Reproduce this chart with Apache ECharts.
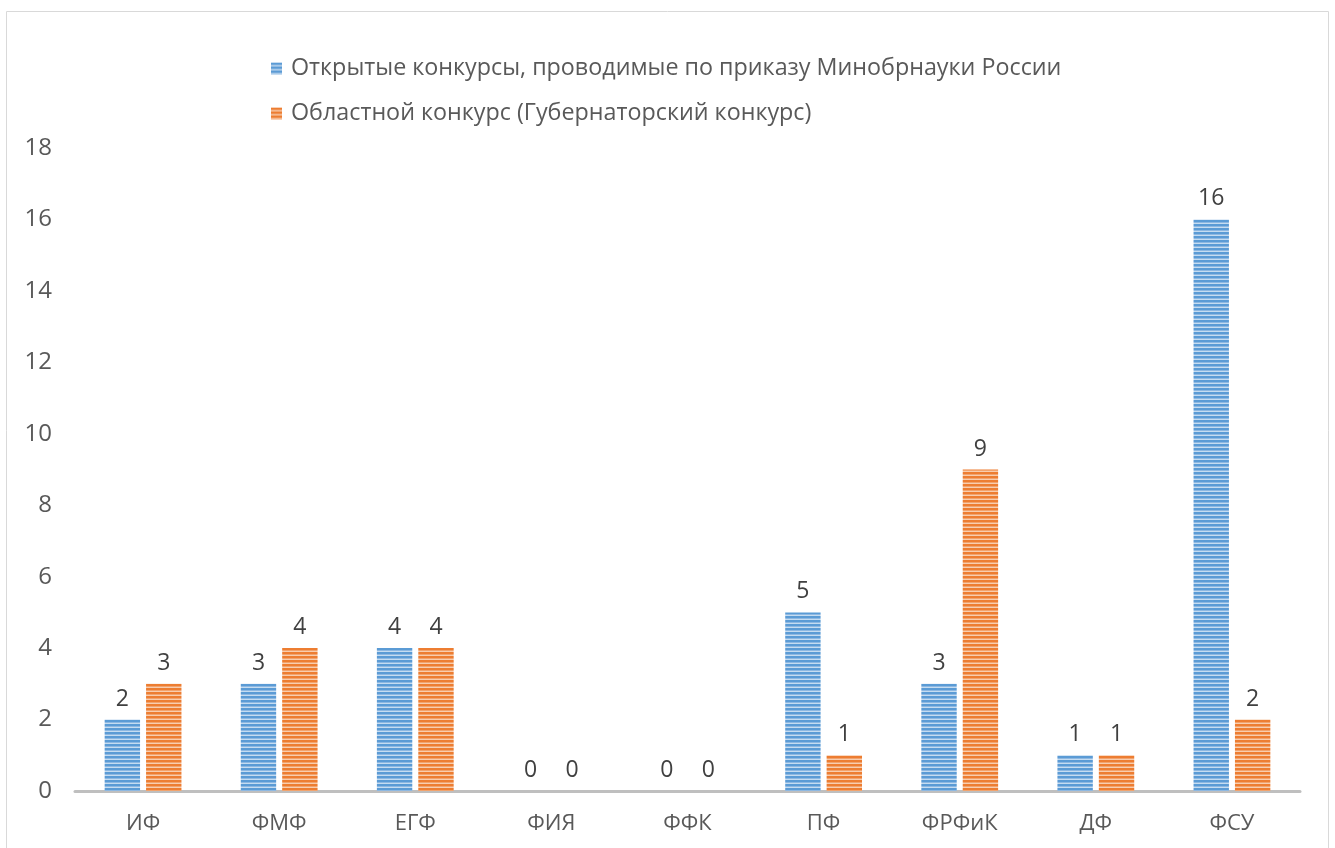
<!DOCTYPE html>
<html>
<head>
<meta charset="utf-8">
<script src="https://cdn.jsdelivr.net/npm/echarts@6/dist/echarts.min.js"></script>
<style>
  html, body { margin: 0; padding: 0; background: #fff; }
  #chart { width: 1335px; height: 848px; }
</style>
</head>
<body>
<div id="chart"></div>
<script>
var categories = ['ИФ', 'ФМФ', 'ЕГФ', 'ФИЯ', 'ФФК', 'ПФ', 'ФРФиК', 'ДФ', 'ФСУ'];
var openContests = [2, 3, 4, 0, 0, 5, 3, 1, 16];
var regionalContest = [3, 4, 4, 0, 0, 1, 9, 1, 2];
var seriesNames = [
    'Открытые конкурсы, проводимые по приказу Минобрнауки России',
    'Областной конкурс (Губернаторский конкурс)'
];

// horizontal stripes, like the excel fill
function stripes(dark, mid, light) {
    var c = document.createElement('canvas');
    c.width = 4; c.height = 4;
    var ctx = c.getContext('2d');
    ctx.fillStyle = dark; ctx.fillRect(0, 0, 4, 2);
    ctx.fillStyle = mid; ctx.fillRect(0, 2, 4, 1);
    ctx.fillStyle = light; ctx.fillRect(0, 3, 4, 1);
    return { image: c, repeat: 'repeat' };
}

var blueFill = stripes('#5B9BD5', '#8DB8E2', '#C5DCF1');
var orangeFill = stripes('#ED7D31', '#F2A36D', '#F8CDAE');

var dom = document.getElementById('chart');
var myChart = echarts.init(dom);

var labelStyle = {
    show: true,
    position: 'top',
    distance: 9,
    fontFamily: 'Open Sans',
    fontSize: 23,
    color: '#404040'
};

var option = {
    animation: false,
    textStyle: { fontFamily: 'Open Sans' },
    graphic: [{
        type: 'rect',
        shape: { x: 6.5, y: 11.5, width: 1322, height: 900 },
        style: { fill: 'none', stroke: '#D9D9D9', lineWidth: 1 },
        silent: true
    }],
    legend: {
        orient: 'vertical',
        left: 266,
        top: 52,
        itemWidth: 11,
        itemHeight: 12,
        itemGap: 22,
        icon: 'rect',
        textStyle: { fontFamily: 'Open Sans', fontSize: 23.3, color: '#595959', padding: [0, 0, 0, 4] },
        data: seriesNames
    },
    grid: { left: 75, right: 35, top: 148, bottom: 57 },
    xAxis: {
        type: 'category',
        data: categories,
        axisLine: { lineStyle: { color: '#BFBFBF', width: 3 } },
        axisTick: { show: false },
        axisLabel: { fontFamily: 'Open Sans', fontSize: 22, color: '#595959', margin: 22 }
    },
    yAxis: {
        type: 'value',
        min: 0,
        max: 18,
        interval: 2,
        axisLine: { show: false },
        axisTick: { show: false },
        splitLine: { show: false },
        axisLabel: { fontFamily: 'Open Sans', fontSize: 24, color: '#595959', margin: 23 }
    },
    series: [
        {
            name: seriesNames[0],
            type: 'bar',
            barWidth: '26%',
            barGap: '17%',
            data: openContests,
            itemStyle: { color: blueFill },
            label: labelStyle
        },
        {
            name: seriesNames[1],
            type: 'bar',
            barWidth: '26%',
            data: regionalContest,
            itemStyle: { color: orangeFill },
            label: labelStyle
        }
    ]
};
myChart.setOption(option, true);
</script>
</body>
</html>
